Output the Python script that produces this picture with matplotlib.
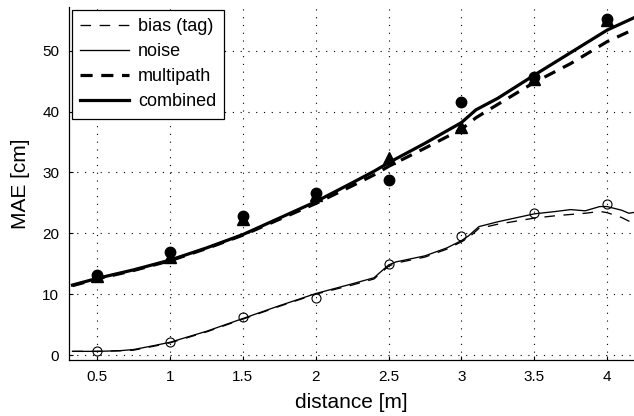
import matplotlib
matplotlib.use("Agg")
import matplotlib.pyplot as plt

# ---- data ------------------------------------------------------------------
# combined / multipath model curves (upper pair)
x_up = [0.33, 0.5, 0.75, 1.0, 1.25, 1.5, 1.75, 2.0, 2.25, 2.4, 2.5, 2.75,
        3.0, 3.1, 3.25, 3.5, 3.75, 4.0, 4.2]
combined = [11.5, 12.6, 14.0, 15.6, 17.6, 19.8, 22.5, 25.2, 28.3, 30.2, 31.6,
            34.8, 38.2, 40.3, 42.2, 46.0, 49.7, 53.4, 55.6]
multipath = [11.4, 12.5, 13.9, 15.5, 17.5, 19.7, 22.3, 24.9, 27.8, 29.6, 31.0,
             34.0, 37.1, 39.0, 41.2, 44.8, 47.9, 51.5, 53.7]

# bias / noise model curves (lower pair)
x_lo = [0.33, 0.5, 0.65, 0.75, 0.9, 1.0, 1.25, 1.5, 1.75, 2.0, 2.25, 2.4,
        2.5, 2.55, 2.75, 2.9, 3.0, 3.05, 3.12, 3.25, 3.5, 3.65, 3.75, 3.85,
        3.95, 4.0, 4.1, 4.15, 4.2]
noise = [0.6, 0.6, 0.7, 0.9, 1.6, 2.1, 3.9, 6.0, 8.1, 10.1, 11.7, 12.7,
         14.8, 15.3, 16.3, 17.6, 18.8, 19.6, 21.1, 21.9, 23.2, 23.6, 23.9, 23.7,
         24.4, 24.4, 23.8, 23.3, 23.5]
bias = [0.6, 0.6, 0.7, 0.8, 1.5, 2.0, 3.8, 5.9, 8.0, 10.0, 11.5, 12.5,
        14.6, 15.1, 16.1, 17.4, 18.6, 19.3, 20.8, 21.5, 22.5, 22.9, 23.1, 23.3,
        23.6, 23.4, 22.6, 22.0, 21.8]

# measured points
x_meas = [0.5, 1.0, 1.5, 2.0, 2.5, 3.0, 3.5, 4.0]
meas_combined = [13.2, 16.9, 22.8, 26.7, 28.8, 41.6, 45.7, 55.3]
meas_multipath = [13.0, 16.1, 22.3, 26.3, 32.4, 37.4, 45.3, 55.0]
meas_bias = [0.7, 2.2, 6.3, 9.3, 14.9, 19.6, 23.4, 24.8]

xticks = [0.5, 1, 1.5, 2, 2.5, 3, 3.5, 4]
xticklabels = ["0.5", "1", "1.5", "2", "2.5", "3", "3.5", "4"]
yticks = [0, 10, 20, 30, 40, 50]

plt.rcParams["font.family"] = ["Liberation Sans", "DejaVu Sans"]

fig = plt.figure(figsize=(6.34, 4.16), dpi=100)
ax = fig.add_axes([69 / 634, 1 - 360 / 416, 1 - 69 / 634, (360 - 7) / 416])

thin, thick = 0.95, 2.3
ax.plot(x_lo, bias, color="black", lw=thin, ls=(0, (8, 6.5)), label="bias (tag)")
ax.plot(x_lo, noise, color="black", lw=thin, ls="-", label="noise")
ax.plot(x_up, multipath, color="black", lw=thick, ls=(0, (3.8, 2.7)), label="multipath")
ax.plot(x_up, combined, color="black", lw=thick, ls="-", label="combined")

ax.plot(x_meas, meas_multipath, ls="none", marker="^", ms=8, color="black")
ax.plot(x_meas, meas_combined, ls="none", marker="o", ms=7.5, color="black")
ax.plot(x_meas, meas_bias, ls="none", marker="o", ms=6.5, mfc="none",
        mec="black", mew=0.8)

ax.set_xlim(0.306, 4.185)
ax.set_ylim(-0.82, 57.2)
ax.set_xticks(xticks)
ax.set_xticklabels(xticklabels)
ax.set_yticks(yticks)
ax.grid(True, color="black", lw=0.8, ls=(0, (1, 6)))
ax.tick_params(direction="in", length=3, width=0.8, labelsize=11, pad=7)
for side in ("top", "right"):
    ax.spines[side].set_visible(False)
for side in ("left", "bottom"):
    ax.spines[side].set_linewidth(0.9)

ax.set_xlabel("distance [m]", fontsize=15, labelpad=7)
ax.set_ylabel("MAE [cm]", fontsize=15, labelpad=9)

leg = ax.legend(loc="upper left", bbox_to_anchor=(72 / 634, 1 - 10 / 416),
                bbox_transform=fig.transFigure, borderaxespad=0, fontsize=13,
                handlelength=2.7, handletextpad=0.5, labelspacing=0.45,
                borderpad=0.45, fancybox=False, framealpha=1)
leg.get_frame().set_edgecolor("black")
leg.get_frame().set_linewidth(0.9)

fig.savefig("out.png", dpi=100, facecolor="white")
